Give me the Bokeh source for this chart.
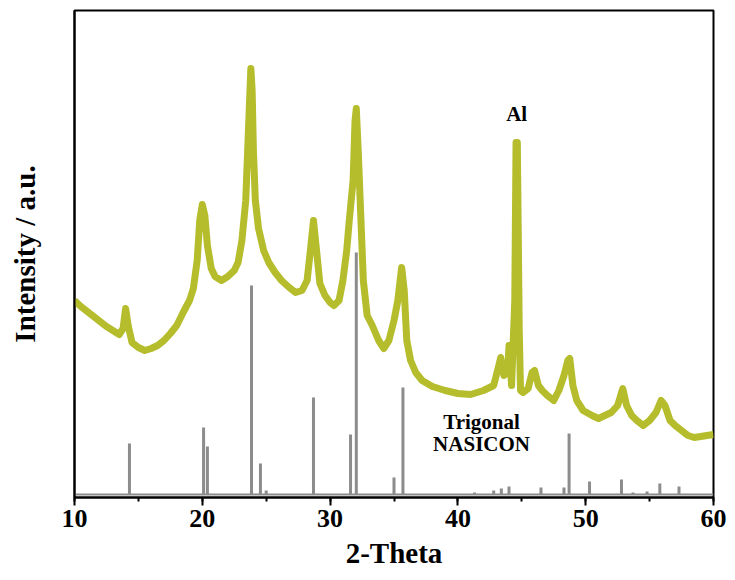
from bokeh.plotting import figure
from bokeh.models import Range1d, SingleIntervalTicker, FixedTicker, Label, ColumnDataSource
from bokeh.embed import file_html
from bokeh.resources import INLINE

# Measured XRD pattern (2-theta in degrees, intensity in a.u.)
sample_2theta = [10.0, 10.5, 11.0, 11.5, 12.0, 12.5, 13.0, 13.5, 13.8, 14.0, 14.2, 14.5, 15.0, 15.5,
                 16.0, 16.5, 17.0, 17.5, 18.0, 18.5, 19.0, 19.3, 19.6, 19.8, 20.0, 20.2, 20.4, 20.7,
                 21.0, 21.5, 22.0, 22.5, 22.8, 23.1, 23.4, 23.55, 23.7, 23.8, 23.9, 24.0, 24.15, 24.4,
                 24.8, 25.2, 25.7, 26.2, 26.8, 27.3, 27.8, 28.2, 28.5, 28.7, 28.9, 29.2, 29.6, 30.0,
                 30.3, 30.7, 31.0, 31.3, 31.5, 31.65, 31.8, 31.95, 32.05, 32.2, 32.4, 32.6, 32.9, 33.3,
                 33.8, 34.2, 34.6, 35.0, 35.3, 35.6, 35.8, 36.0, 36.3, 36.7, 37.2, 38.0, 39.0, 40.0,
                 41.0, 42.0, 42.8, 43.2, 43.35, 43.6, 43.9, 44.0, 44.2, 44.45, 44.55, 44.65, 44.8, 44.9,
                 45.1, 45.5, 45.8, 46.0, 46.3, 46.6, 47.0, 47.5, 47.9, 48.3, 48.6, 48.75, 49.0, 49.3,
                 49.8, 50.5, 51.0, 51.5, 52.0, 52.5, 52.9, 53.2, 53.6, 54.0, 54.5, 55.0, 55.5, 55.9,
                 56.2, 56.6, 57.0, 57.5, 58.0, 58.5, 59.0, 59.5, 60.0]
sample_intensity = [194, 188, 183, 178, 173, 168, 164, 160, 166, 186, 169, 152, 147, 144,
                    146, 149, 154, 161, 169, 182, 194, 206, 234, 274, 290, 279, 249, 226,
                    218, 214, 218, 224, 232, 254, 294, 344, 394, 426, 404, 344, 294, 266,
                    244, 232, 222, 214, 207, 202, 204, 214, 249, 274, 249, 211, 199, 192,
                    189, 194, 214, 244, 274, 294, 314, 374, 386, 344, 279, 214, 179, 169,
                    154, 146, 154, 174, 194, 227, 204, 154, 134, 122, 114, 108, 104, 101,
                    100, 104, 109, 129, 137, 119, 124, 149, 109, 194, 352, 352, 164, 104,
                    102, 106, 122, 124, 109, 104, 99, 94, 104, 119, 134, 136, 109, 94,
                    84, 79, 76, 79, 82, 89, 106, 89, 79, 74, 69, 74, 82, 94,
                    89, 74, 69, 64, 59, 57, 58, 59, 60]

# Reference pattern: trigonal NASICON (peak positions and intensities)
ref_2theta = [14.3, 20.1, 20.4, 23.85, 24.55, 25.0, 28.7, 31.6, 32.05, 35.0, 35.7,
              41.3, 42.8, 43.4, 44.0, 46.5, 48.3, 48.7, 50.3, 52.8, 53.7, 54.8, 55.8, 57.3]
ref_intensity = [51, 67, 48, 209, 31, 4, 97, 60, 242, 17, 107,
                 2, 4, 6, 8, 7, 7, 61, 13, 15, 2, 3, 11, 8]

FONT = "Liberation Serif"

p = figure(width=728, height=579, x_range=Range1d(10, 60), y_range=Range1d(-3, 484),
           output_backend="svg", toolbar_location=None,
           min_border_left=74, min_border_right=15, min_border_top=10, min_border_bottom=82)
p.grid.visible = False
p.background_fill_color = "white"
p.outline_line_color = "black"
p.outline_line_width = 2

# olive measured pattern
p.line(sample_2theta, sample_intensity, line_color="#b5bd2c", line_width=7, line_join="round")

# grey reference pattern: baseline + sticks
p.line([10, 60], [0, 0], line_color="#8c8c8c", line_width=2)
ref_src = ColumnDataSource(dict(x=ref_2theta, top=ref_intensity, bottom=[0] * len(ref_2theta)))
p.segment(x0="x", y0="bottom", x1="x", y1="top", source=ref_src, line_color="#8c8c8c",
          line_width=3)

# x axis
xa = p.xaxis[0]
xa.ticker = SingleIntervalTicker(interval=10, num_minor_ticks=2)
xa.axis_label = "2-Theta"
xa.axis_label_text_font = FONT
xa.axis_label_text_font_style = "bold"
xa.axis_label_text_font_size = "29px"
xa.axis_label_text_color = "black"
xa.axis_label_standoff = 7
xa.major_label_text_font = FONT
xa.major_label_text_font_style = "bold"
xa.major_label_text_font_size = "26px"
xa.major_label_text_color = "black"
xa.major_label_standoff = 4
xa.major_tick_out = 8
xa.major_tick_in = 0
xa.minor_tick_out = 4
xa.minor_tick_in = 0
xa.axis_line_width = 2
xa.major_tick_line_width = 2
xa.minor_tick_line_width = 2

# y axis: label only
ya = p.yaxis[0]
ya.ticker = FixedTicker(ticks=[])
ya.axis_label = "Intensity / a.u."
ya.axis_label_text_font = FONT
ya.axis_label_text_font_style = "bold"
ya.axis_label_text_font_size = "29px"
ya.axis_label_text_color = "black"
ya.axis_label_standoff = 34
ya.major_tick_out = 0
ya.minor_tick_out = 0
ya.axis_line_width = 2

label_style = dict(text_font=FONT, text_font_style="bold", text_font_size="21px",
                   text_color="black", text_align="center", text_baseline="middle")
p.add_layout(Label(x=44.6, y=381, text="Al", **label_style))
p.add_layout(Label(x=41.85, y=73, text="Trigonal", **label_style))
p.add_layout(Label(x=41.85, y=51, text="NASICON", **label_style))

open("out.html", "w").write(file_html(p, INLINE))
